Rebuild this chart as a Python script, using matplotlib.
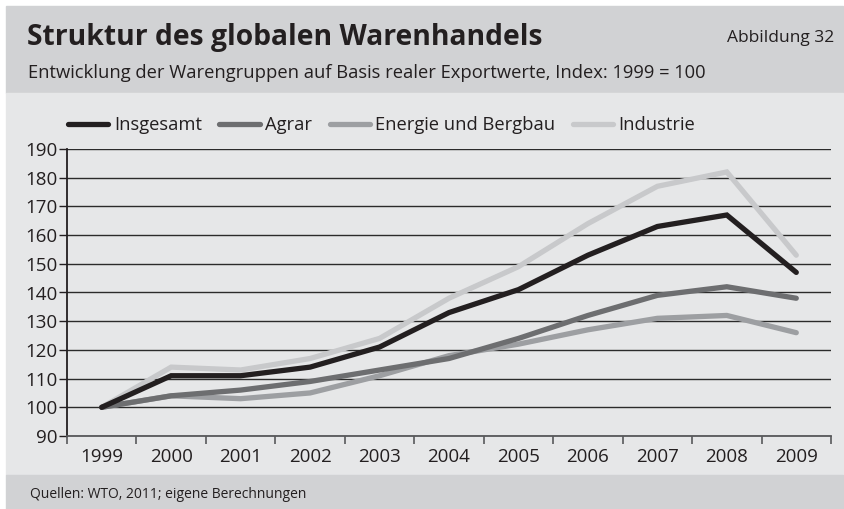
import matplotlib
matplotlib.use('Agg')
from matplotlib import pyplot as plt
from matplotlib.patches import Rectangle
import numpy as np

plt.rcParams['font.family'] = ['Open Sans', 'DejaVu Sans']

years = ['1999', '2000', '2001', '2002', '2003', '2004', '2005', '2006', '2007', '2008', '2009']
insgesamt = [100, 111, 111, 114, 121, 133, 141, 153, 163, 167, 147]
agrar = [100, 104, 106, 109, 113, 117, 124, 132, 139, 142, 138]
energie = [100, 104, 103, 105, 111, 118, 122, 127, 131, 132, 126]
industrie = [100, 114, 113, 117, 124, 138, 149, 164, 177, 182, 153]

W, H = 845, 509
fig = plt.figure(figsize=(W / 100, H / 100), dpi=100, facecolor='white')

# background bands (pixel coords converted to figure fraction)
def band(y0, y1, color):
    fig.patches.append(Rectangle((6 / W, 1 - y1 / H), (843 - 6) / W, (y1 - y0) / H,
                                 transform=fig.transFigure, color=color, zorder=-5))

band(6, 93, '#d1d2d4')
band(93, 475, '#e6e7e8')
band(475, 509, '#d1d2d4')

fig.text(27 / W, 1 - 45 / H, 'Struktur des globalen Warenhandels', fontsize=20.3,
         fontweight='bold', color='#231f20', va='baseline')
fig.text(834 / W, 1 - 42 / H, 'Abbildung 32', fontsize=12.5, color='#231f20',
         ha='right', va='baseline')
fig.text(28 / W, 1 - 78 / H, 'Entwicklung der Warengruppen auf Basis realer Exportwerte, Index: 1999 = 100',
         fontsize=13.2, color='#231f20', va='baseline')
fig.text(30 / W, 1 - 498 / H, 'Quellen: WTO, 2011; eigene Berechnungen', fontsize=10,
         color='#231f20', va='baseline')

ax = fig.add_axes([67 / W, 1 - 436 / H, (831 - 67) / W, (436 - 149) / H])
ax.set_facecolor('none')
ax.set_zorder(2)

x = np.arange(len(years))
series = [('Insgesamt', insgesamt, '#231f20'),
          ('Agrar', agrar, '#6d6e70'),
          ('Energie und Bergbau', energie, '#9d9fa2'),
          ('Industrie', industrie, '#c8c9cb')]

lines = []
for i, (name, vals, col) in enumerate(series):
    ln, = ax.plot(x, vals, color=col, linewidth=3.8, solid_capstyle='round',
                  solid_joinstyle='miter', label=name, zorder=10 - i)
    lines.append(ln)

ax.set_xlim(-0.5, len(years) - 0.5)
ax.set_ylim(90, 190)
ax.set_yticks(range(90, 191, 10))
ax.yaxis.grid(True, color='#2b2b2b', linewidth=1.0)
ax.set_axisbelow(True)

ax.set_xticks(x)
ax.set_xticklabels(years)
ax.set_xticks(np.arange(-0.5, len(years), 1), minor=True)
ax.tick_params(axis='x', which='major', length=0, labelsize=13.5, pad=9, colors='#231f20')
ax.tick_params(axis='x', which='minor', length=5.5, width=1.2, color='#58595b', direction='out')
ax.tick_params(axis='y', length=6, width=1.0, labelsize=13.5, pad=1, colors='#231f20')

for s in ['top', 'right']:
    ax.spines[s].set_visible(False)
ax.spines['left'].set_color('#231f20')
ax.spines['left'].set_linewidth(1.3)
ax.spines['bottom'].set_color('#58595b')
ax.spines['bottom'].set_linewidth(1.3)

fig.legend(handles=lines, loc='center left', bbox_to_anchor=(68 / W, 1 - 125 / H),
           ncol=4, frameon=False, fontsize=13.2, handlelength=2.2, handletextpad=0.3,
           columnspacing=0.95, borderaxespad=0, borderpad=0, labelcolor='#231f20')

plt.savefig('out.png', dpi=100, facecolor=fig.get_facecolor())
plt.close()
